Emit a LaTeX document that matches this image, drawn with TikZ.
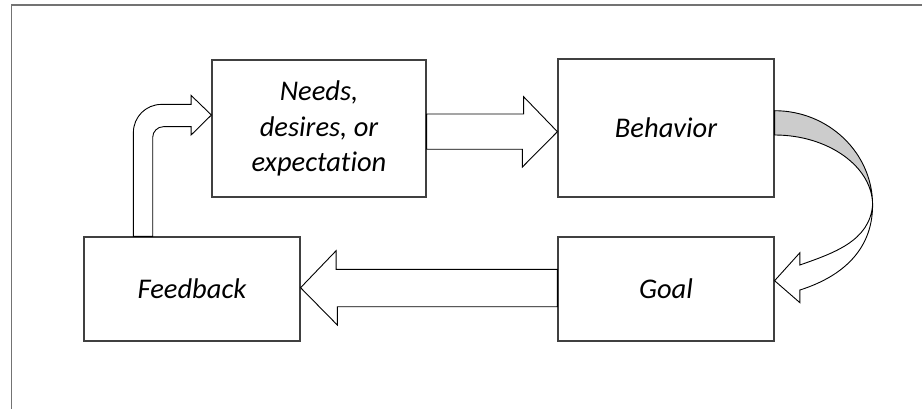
\documentclass[tikz,border=0pt]{standalone}
\usepackage{fontspec}
\setmainfont{Carlito}[Ligatures=NoCommon]
\usepackage{tikz}
\usetikzlibrary{positioning, calc}
\tikzstyle{conceptBox}=[draw=black!75, line width=1.2pt, minimum width=216pt, align=center, font=\fontsize{28.5}{35.5}\selectfont\itshape]
\tikzstyle{blockArrow}=[draw=black, fill=white, line width=0.9pt, line join=miter]
\tikzstyle{frameLine}=[draw=black!55, line width=1.3pt]

\begin{document}
\begin{tikzpicture}[x=1pt, y=-1pt]
  \useasboundingbox (0,0) rectangle (922,409);
  \draw[frameLine] (11.5,409) -- (11.5,5) -- (922,5);

  % boxes
  \node[conceptBox, minimum width=214pt, minimum height=137pt] (needs) at (319, 128.5) {Needs,\\desires, or\\expectation};
  \node[conceptBox, minimum height=138pt] (behavior) at (666, 128) {Behavior};
  \node[conceptBox, minimum height=104pt] (goal) at (666, 289) {Goal};
  \node[conceptBox, minimum height=104pt] (feedback) at (192, 289) {Feedback};

  % straight arrows
  \draw[blockArrow] ($(needs.east)+(0,-14.5)$) -- ++(97,0) -- ++(0,-17.3)
    -- ($(behavior.west)+(0,3.7)$) -- ++(-35,35.3) -- ++(0,-17.7)
    -- ($(needs.east)+(0,20.8)$) -- cycle;
  \draw[blockArrow] ($(goal.west)+(0,-19.7)$) -- ++(-221.3,0) -- ++(0,-18.6)
    -- ($(feedback.east)+(0,-1.3)$) -- ++(36.7,37.3) -- ++(0,-18.3)
    -- ($(goal.west)+(0,17.7)$) -- cycle;

  % bent arrow
  \draw[blockArrow] ($(feedback.north west)+(50,0)$) -- ++(0,-104)
    arc[start angle=180, end angle=270, radius=28] -- ++(29.7,0) -- ++(0,-9)
    -- ($(needs.west)+(0,-13.5)$) -- ++(-20.3,20) -- ++(0,-8.3) -- ++(-27.7,0)
    arc[start angle=270, end angle=180, radius=10.7]
    -- ($(feedback.north west)+(69.3,0)$) -- cycle;

  % curved arrow
  \coordinate (bend) at ($(behavior.east)+(98,77)$);
  \draw[blockArrow] (bend) .. controls +(0,48) and +(38,-12) .. ($(goal.east)+(25.3,1)$)
    -- ++(0,12.7) -- ($(goal.east)+(0,-8.3)$) -- ++(25.3,-28) -- ++(0,12.3)
    .. controls +(34,-12) and +(-3,36) .. (bend) -- cycle;
  \draw[blockArrow, fill=black!20] ($(behavior.east)+(0,-17.3)$) .. controls +(54,0) and +(0,-52) .. (bend)
    .. controls +(0,-38) and +(54,0) .. ($(behavior.east)+(0,7)$) -- cycle;
\end{tikzpicture}
\end{document}
